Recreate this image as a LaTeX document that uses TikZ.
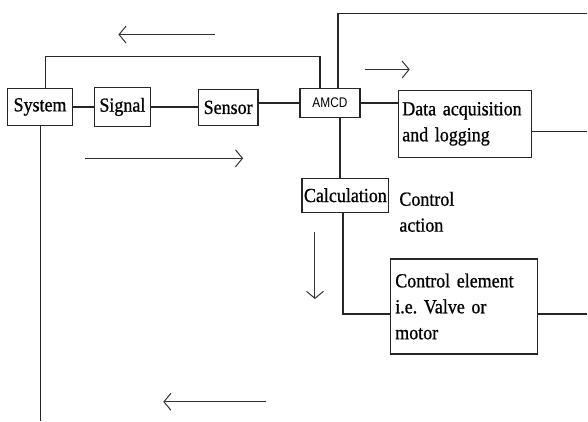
\documentclass[tikz,border=0pt]{standalone}
\usepackage{fontspec}
\setmainfont{Liberation Serif}[FakeStretch=0.9,FakeBold=0.8]
\newfontfamily\amcdfont{Liberation Sans}[FakeStretch=0.85]
\usetikzlibrary{arrows.meta}
\begin{document}
\begin{tikzpicture}[x=1pt,y=-1pt,
  line width=1.3pt,
  every path/.style={draw=black!85},
  box/.style={draw=black!85, line width=1.3pt, inner sep=0pt, font=\fontsize{20}{26}\selectfont, text=black},
  flow/.style={line width=1pt, draw=black!80, -{Straight Barb[length=7pt,width=17pt,line width=1pt]}}
]
\useasboundingbox (0,0) rectangle (588,421);
\fill[white] (0,0) rectangle (588,421);

\node[box, minimum width=65pt, minimum height=37pt] (sys) at (39.5,106.5) {System};
\node[box, minimum width=56pt, minimum height=39pt] (sig) at (122,106.5) {Signal};
\node[box, minimum width=60pt, minimum height=36pt] (sen) at (228,107) {Sensor};
\node[box, minimum width=60pt, minimum height=29pt, font=\amcdfont\fontsize{14}{16}\selectfont] (amcd) at (330,102.5) {AMCD};
\node[box, minimum width=133pt, minimum height=67pt, align=left, text width=126pt] (dat) at (465.5,123.5) {Data acquisition\\and logging};
\node[box, minimum width=87pt, minimum height=34pt] (calc) at (345.5,195) {Calculation};
\node[box, minimum width=147pt, minimum height=95pt, align=left, text width=138pt] (ctl) at (464.5,306.5) {Control element\\i.e.\ Valve or\\motor};
\node[anchor=north west, inner sep=0pt, align=left, font=\fontsize{20}{26}\selectfont] (act) at (399,191) {Control\\action};

\coordinate (c1) at (45,56);
\coordinate (c2) at (320,56);
\coordinate (c3) at (338,13);
\coordinate (c4) at (588,13);
\coordinate (c5) at (343,314);
\coordinate (c6) at (40,421);
\coordinate (c7) at (340,0);
\coordinate (dr) at (588,131);
\coordinate (cr) at (588,314);

\draw (sys.east) -- (sig.west |- sys.east);
\draw (sig.east) -- (sen.west |- sig.east);
\draw (sen.east |- amcd.west) -- (amcd.west);
\draw (amcd.east) -- (dat.west |- amcd.east);
\draw (dat.east |- dr) -- (dr);
\draw (sys.north -| c1) -- (c1) -- (c2) -- (amcd.north -| c2);
\draw (amcd.north -| c3) -- (c3) -- (c4);
\draw (amcd.south -| c7) -- (calc.north -| c7);
\draw (calc.south -| c5) -- (c5) -- (ctl.west |- c5);
\draw (ctl.east |- cr) -- (cr);
\draw (sys.south -| c6) -- (c6);

\draw[flow] (215,34) -- (118,34);
\draw[flow] (85,158) -- (243,158);
\draw[flow] (365,69) -- (410,69);
\draw[flow] (315,232) -- (315,299);
\draw[flow] (266,402) -- (163,402);
\end{tikzpicture}
\end{document}
